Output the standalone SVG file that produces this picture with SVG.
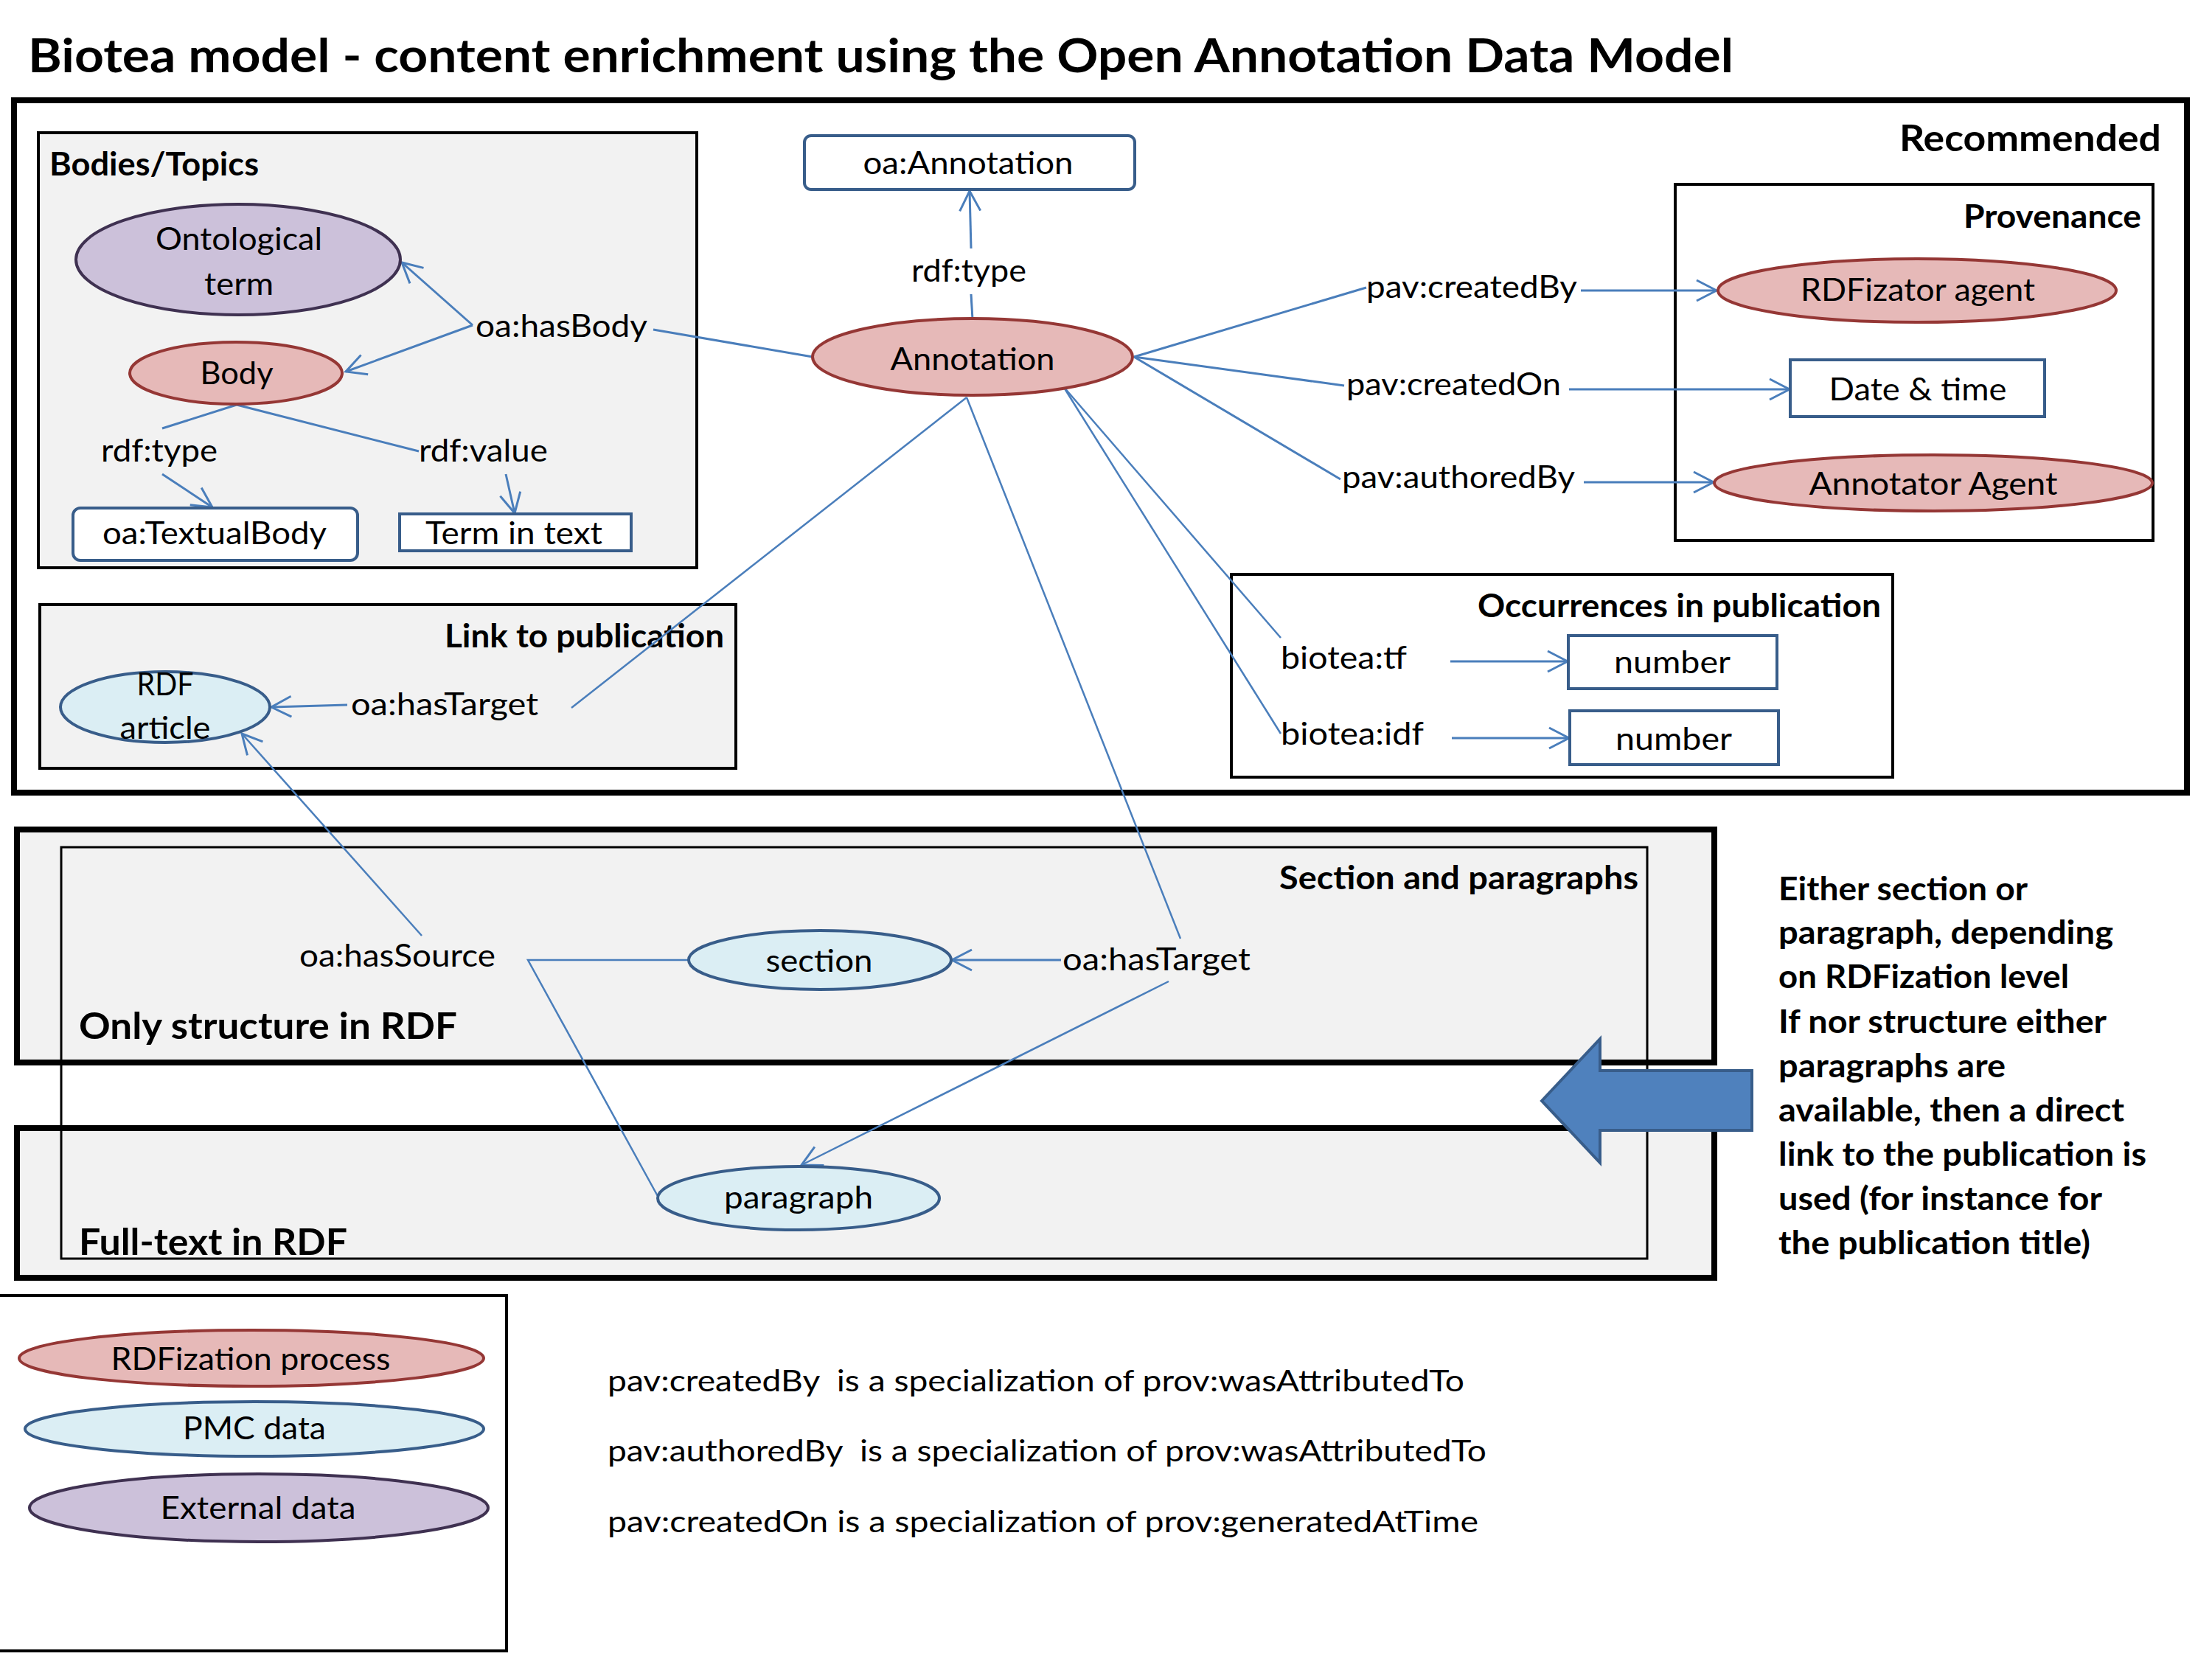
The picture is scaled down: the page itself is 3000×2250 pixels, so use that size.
<svg xmlns="http://www.w3.org/2000/svg" width="3000" height="2250" viewBox="0 0 3000 2250">
<defs>
<style>
text{font-family:Lato,"Open Sans","Liberation Sans",sans-serif;fill:#000}
.r{font-size:43px}
.b{font-size:44px;font-weight:bold}
.bb{font-size:50px;font-weight:bold}
.n{font-size:41px}
.grp{fill:none;stroke:#000;stroke-width:4}
.grey{fill:#f2f2f2}
.thick{stroke-width:8}
.pink{fill:#e6b9b8;stroke:#953735;stroke-width:4}
.purple{fill:#ccc1da;stroke:#3f3151;stroke-width:4}
.blue{fill:#dbeef4;stroke:#385d8a;stroke-width:4}
.box{fill:#fff;stroke:#385d8a;stroke-width:4}
.c{fill:none;stroke:#4a7ebb;stroke-width:3}
.cl{fill:none;stroke:#4a7ebb;stroke-width:2.5}
.a{marker-end:url(#arr)}
</style>
<marker id="arr" markerUnits="userSpaceOnUse" markerWidth="40" markerHeight="40" viewBox="-32 -20 40 40" refX="0" refY="0" orient="auto">
<path d="M-27,-14 L0,0 L-27,14" fill="none" stroke="#4a7ebb" stroke-width="3"/>
</marker>
</defs>

<text id="title" class="bb" x="38" y="98" style="font-size:64px" textLength="2313" lengthAdjust="spacingAndGlyphs">Biotea model - content enrichment using the Open Annotation Data Model</text>

<g id="groups">
<rect id="g-recommended" class="grp thick" x="19" y="136" width="2947" height="939"/>
<rect id="g-bodies" class="grp grey" x="52" y="180" width="893" height="590"/>
<rect id="g-link" class="grp grey" x="54" y="820" width="944" height="222"/>
<rect id="g-provenance" class="grp" x="2272" y="250" width="648" height="483"/>
<rect id="g-occurrences" class="grp" x="1670" y="779" width="897" height="275"/>
<rect id="g-structure" class="grp grey thick" x="23" y="1125" width="2302" height="316"/>
<rect id="g-fulltext" class="grp grey thick" x="23" y="1530" width="2302" height="203"/>
<rect id="g-section" class="grp" style="stroke-width:3" x="83" y="1149" width="2151" height="558"/>
<rect id="g-legend" class="grp" x="-6" y="1757" width="693" height="482"/>
<text class="bb" x="2931" y="205" text-anchor="end" textLength="355" lengthAdjust="spacingAndGlyphs">Recommended</text>
<text class="b" x="67" y="238" textLength="284" lengthAdjust="spacingAndGlyphs">Bodies/Topics</text>
<text class="b" x="2904" y="309" text-anchor="end" textLength="241" lengthAdjust="spacingAndGlyphs">Provenance</text>
<text class="b" x="982" y="878" text-anchor="end" textLength="379" lengthAdjust="spacingAndGlyphs">Link to publication</text>
<text class="b" x="2004" y="837" textLength="547" lengthAdjust="spacingAndGlyphs">Occurrences in publication</text>
<text class="b" x="1735" y="1206" textLength="487" lengthAdjust="spacingAndGlyphs">Section and paragraphs</text>
<text class="bb" x="107" y="1409" textLength="513" lengthAdjust="spacingAndGlyphs">Only structure in RDF</text>
<text class="bb" x="107" y="1702" textLength="364" lengthAdjust="spacingAndGlyphs">Full-text in RDF</text>
</g>

<g id="connectors">
<line class="c a" x1="641" y1="441" x2="545" y2="356"/>
<line class="c a" x1="641" y1="441" x2="469" y2="504"/>
<line class="c" x1="1102" y1="484" x2="886" y2="447"/>
<line class="c" x1="321" y1="549" x2="220" y2="581"/>
<line class="c a" x1="220" y1="643" x2="288" y2="688"/>
<line class="c" x1="321" y1="549" x2="568" y2="612"/>
<line class="c a" x1="686" y1="643" x2="698" y2="696"/>
<line class="c" x1="1319" y1="433" x2="1317" y2="399"/>
<line class="c a" x1="1317" y1="337" x2="1315" y2="259"/>
<line class="c" x1="1538" y1="484" x2="1853" y2="390"/>
<line class="c a" x1="2144" y1="394" x2="2328" y2="394"/>
<line class="c" x1="1538" y1="484" x2="1823" y2="523"/>
<line class="c a" x1="2128" y1="528" x2="2427" y2="528"/>
<line class="c" x1="1538" y1="484" x2="1818" y2="650"/>
<line class="c a" x1="2148" y1="654" x2="2324" y2="654"/>
<line class="cl" x1="1442" y1="524" x2="1737" y2="865"/>
<line class="cl" x1="1442" y1="524" x2="1737" y2="995"/>
<line class="c a" x1="1967" y1="897" x2="2126" y2="897"/>
<line class="c a" x1="1969" y1="1001" x2="2128" y2="1001"/>
<line class="cl" x1="1311" y1="539" x2="775" y2="960"/>
<line class="c a" x1="471" y1="956" x2="368" y2="959"/>
<line class="cl" x1="1311" y1="539" x2="1601" y2="1273"/>
<line class="c a" x1="1439" y1="1302" x2="1291" y2="1302"/>
<line class="cl a" x1="1585" y1="1331" x2="1087" y2="1580"/>
<polyline class="cl" points="934,1302 716,1302 893,1624"/>
<line class="cl a" x1="572" y1="1269" x2="328" y2="995"/>
</g>

<g id="labels">
<text class="r" x="645" y="457" textLength="233" lengthAdjust="spacingAndGlyphs">oa:hasBody</text>
<text class="r" x="137" y="626" textLength="158" lengthAdjust="spacingAndGlyphs">rdf:type</text>
<text class="r" x="568" y="626" textLength="175" lengthAdjust="spacingAndGlyphs">rdf:value</text>
<text class="r" x="1314" y="382" text-anchor="middle" textLength="156" lengthAdjust="spacingAndGlyphs">rdf:type</text>
<text class="r" x="1853" y="404" textLength="286" lengthAdjust="spacingAndGlyphs">pav:createdBy</text>
<text class="r" x="1826" y="536" textLength="291" lengthAdjust="spacingAndGlyphs">pav:createdOn</text>
<text class="r" x="1820" y="662" textLength="316" lengthAdjust="spacingAndGlyphs">pav:authoredBy</text>
<text class="r" x="1737" y="907" textLength="171" lengthAdjust="spacingAndGlyphs">biotea:tf</text>
<text class="r" x="1737" y="1010" textLength="194" lengthAdjust="spacingAndGlyphs">biotea:idf</text>
<text class="r" x="476" y="970" textLength="254" lengthAdjust="spacingAndGlyphs">oa:hasTarget</text>
<text class="r" x="406" y="1311" textLength="266" lengthAdjust="spacingAndGlyphs">oa:hasSource</text>
<text class="r" x="1441" y="1316" textLength="255" lengthAdjust="spacingAndGlyphs">oa:hasTarget</text>
</g>

<g id="n-ontological">
<ellipse class="purple" cx="323" cy="352" rx="220" ry="75"/>
<text class="r" x="324" y="339" text-anchor="middle" textLength="226" lengthAdjust="spacingAndGlyphs">Ontological</text>
<text class="r" x="324" y="400" text-anchor="middle" textLength="94" lengthAdjust="spacingAndGlyphs">term</text>
</g>
<g id="n-body">
<ellipse class="pink" cx="320" cy="506" rx="144" ry="42"/>
<text class="r" x="321" y="521" text-anchor="middle" textLength="99" lengthAdjust="spacingAndGlyphs">Body</text>
</g>
<g id="n-textualbody">
<rect class="box" x="99" y="689" width="386" height="71" rx="10"/>
<text class="r" x="291" y="738" text-anchor="middle" textLength="304" lengthAdjust="spacingAndGlyphs">oa:TextualBody</text>
</g>
<g id="n-termintext">
<rect class="box" x="542" y="697" width="314" height="50"/>
<text class="r" x="697" y="738" text-anchor="middle" textLength="240" lengthAdjust="spacingAndGlyphs">Term in text</text>
</g>
<g id="n-oaannotation">
<rect class="box" x="1091" y="184" width="448" height="73" rx="9"/>
<text class="r" x="1313" y="236" text-anchor="middle" textLength="285" lengthAdjust="spacingAndGlyphs">oa:Annotation</text>
</g>
<g id="n-annotation">
<ellipse class="pink" cx="1319" cy="484" rx="217" ry="52"/>
<text class="r" x="1319" y="502" text-anchor="middle" textLength="223" lengthAdjust="spacingAndGlyphs">Annotation</text>
</g>
<g id="n-rdfizator">
<ellipse class="pink" cx="2600" cy="394" rx="270" ry="43"/>
<text class="r" x="2601" y="408" text-anchor="middle" textLength="318" lengthAdjust="spacingAndGlyphs">RDFizator agent</text>
</g>
<g id="n-datetime">
<rect class="box" x="2428" y="488" width="345" height="77"/>
<text class="r" x="2601" y="543" text-anchor="middle" textLength="241" lengthAdjust="spacingAndGlyphs">Date &amp; time</text>
</g>
<g id="n-annotator">
<ellipse class="pink" cx="2622" cy="655" rx="297" ry="38"/>
<text class="r" x="2622" y="671" text-anchor="middle" textLength="337" lengthAdjust="spacingAndGlyphs">Annotator Agent</text>
</g>
<g id="n-number1">
<rect class="box" x="2127" y="862" width="283" height="72"/>
<text class="r" x="2268" y="913" text-anchor="middle" textLength="158" lengthAdjust="spacingAndGlyphs">number</text>
</g>
<g id="n-number2">
<rect class="box" x="2129" y="964" width="283" height="73"/>
<text class="r" x="2270" y="1017" text-anchor="middle" textLength="158" lengthAdjust="spacingAndGlyphs">number</text>
</g>
<g id="n-rdfarticle">
<ellipse class="blue" cx="224" cy="959" rx="142" ry="48"/>
<text class="r" x="224" y="943" text-anchor="middle" textLength="77" lengthAdjust="spacingAndGlyphs">RDF</text>
<text class="r" x="224" y="1002" text-anchor="middle" textLength="123" lengthAdjust="spacingAndGlyphs">article</text>
</g>
<g id="n-section">
<ellipse class="blue" cx="1112" cy="1302" rx="178" ry="40"/>
<text class="r" x="1111" y="1318" text-anchor="middle" textLength="145" lengthAdjust="spacingAndGlyphs">section</text>
</g>
<g id="n-paragraph">
<ellipse class="blue" cx="1083" cy="1625" rx="191" ry="43"/>
<text class="r" x="1083" y="1639" text-anchor="middle" textLength="202" lengthAdjust="spacingAndGlyphs">paragraph</text>
</g>

<g id="big-arrow">
<polygon points="2091,1493 2170,1409 2170,1452 2376,1452 2376,1533 2170,1533 2170,1577" fill="#4f81bd" stroke="#385d8a" stroke-width="4"/>
</g>

<g id="note-right">
<text class="b" x="2412" y="1221" textLength="338" lengthAdjust="spacingAndGlyphs">Either section or</text>
<text class="b" x="2412" y="1280" textLength="454" lengthAdjust="spacingAndGlyphs">paragraph, depending</text>
<text class="b" x="2412" y="1340" textLength="394" lengthAdjust="spacingAndGlyphs">on RDFization level</text>
<text class="b" x="2412" y="1401" textLength="445" lengthAdjust="spacingAndGlyphs">If nor structure either</text>
<text class="b" x="2412" y="1461" textLength="308" lengthAdjust="spacingAndGlyphs">paragraphs are</text>
<text class="b" x="2412" y="1521" textLength="469" lengthAdjust="spacingAndGlyphs">available, then a direct</text>
<text class="b" x="2412" y="1581" textLength="499" lengthAdjust="spacingAndGlyphs">link to the publication is</text>
<text class="b" x="2412" y="1641" textLength="439" lengthAdjust="spacingAndGlyphs">used (for instance for</text>
<text class="b" x="2412" y="1701" textLength="423" lengthAdjust="spacingAndGlyphs">the publication title)</text>
</g>

<g id="legend">
<g id="l-rdfization">
<ellipse class="pink" cx="341" cy="1842" rx="315" ry="38"/>
<text class="r" x="340" y="1858" text-anchor="middle" textLength="379" lengthAdjust="spacingAndGlyphs">RDFization process</text>
</g>
<g id="l-pmc">
<ellipse class="blue" cx="345" cy="1938" rx="311" ry="37"/>
<text class="r" x="345" y="1952" text-anchor="middle" textLength="194" lengthAdjust="spacingAndGlyphs">PMC data</text>
</g>
<g id="l-external">
<ellipse class="purple" cx="351" cy="2045" rx="311" ry="46"/>
<text class="r" x="350" y="2060" text-anchor="middle" textLength="265" lengthAdjust="spacingAndGlyphs">External data</text>
</g>
</g>

<g id="notes">
<text class="n" x="824" y="1887" xml:space="preserve" textLength="1162" lengthAdjust="spacingAndGlyphs">pav:createdBy  is a specialization of prov:wasAttributedTo</text>
<text class="n" x="824" y="1982" xml:space="preserve" textLength="1192" lengthAdjust="spacingAndGlyphs">pav:authoredBy  is a specialization of prov:wasAttributedTo</text>
<text class="n" x="824" y="2078" textLength="1181" lengthAdjust="spacingAndGlyphs">pav:createdOn is a specialization of prov:generatedAtTime</text>
</g>
</svg>
